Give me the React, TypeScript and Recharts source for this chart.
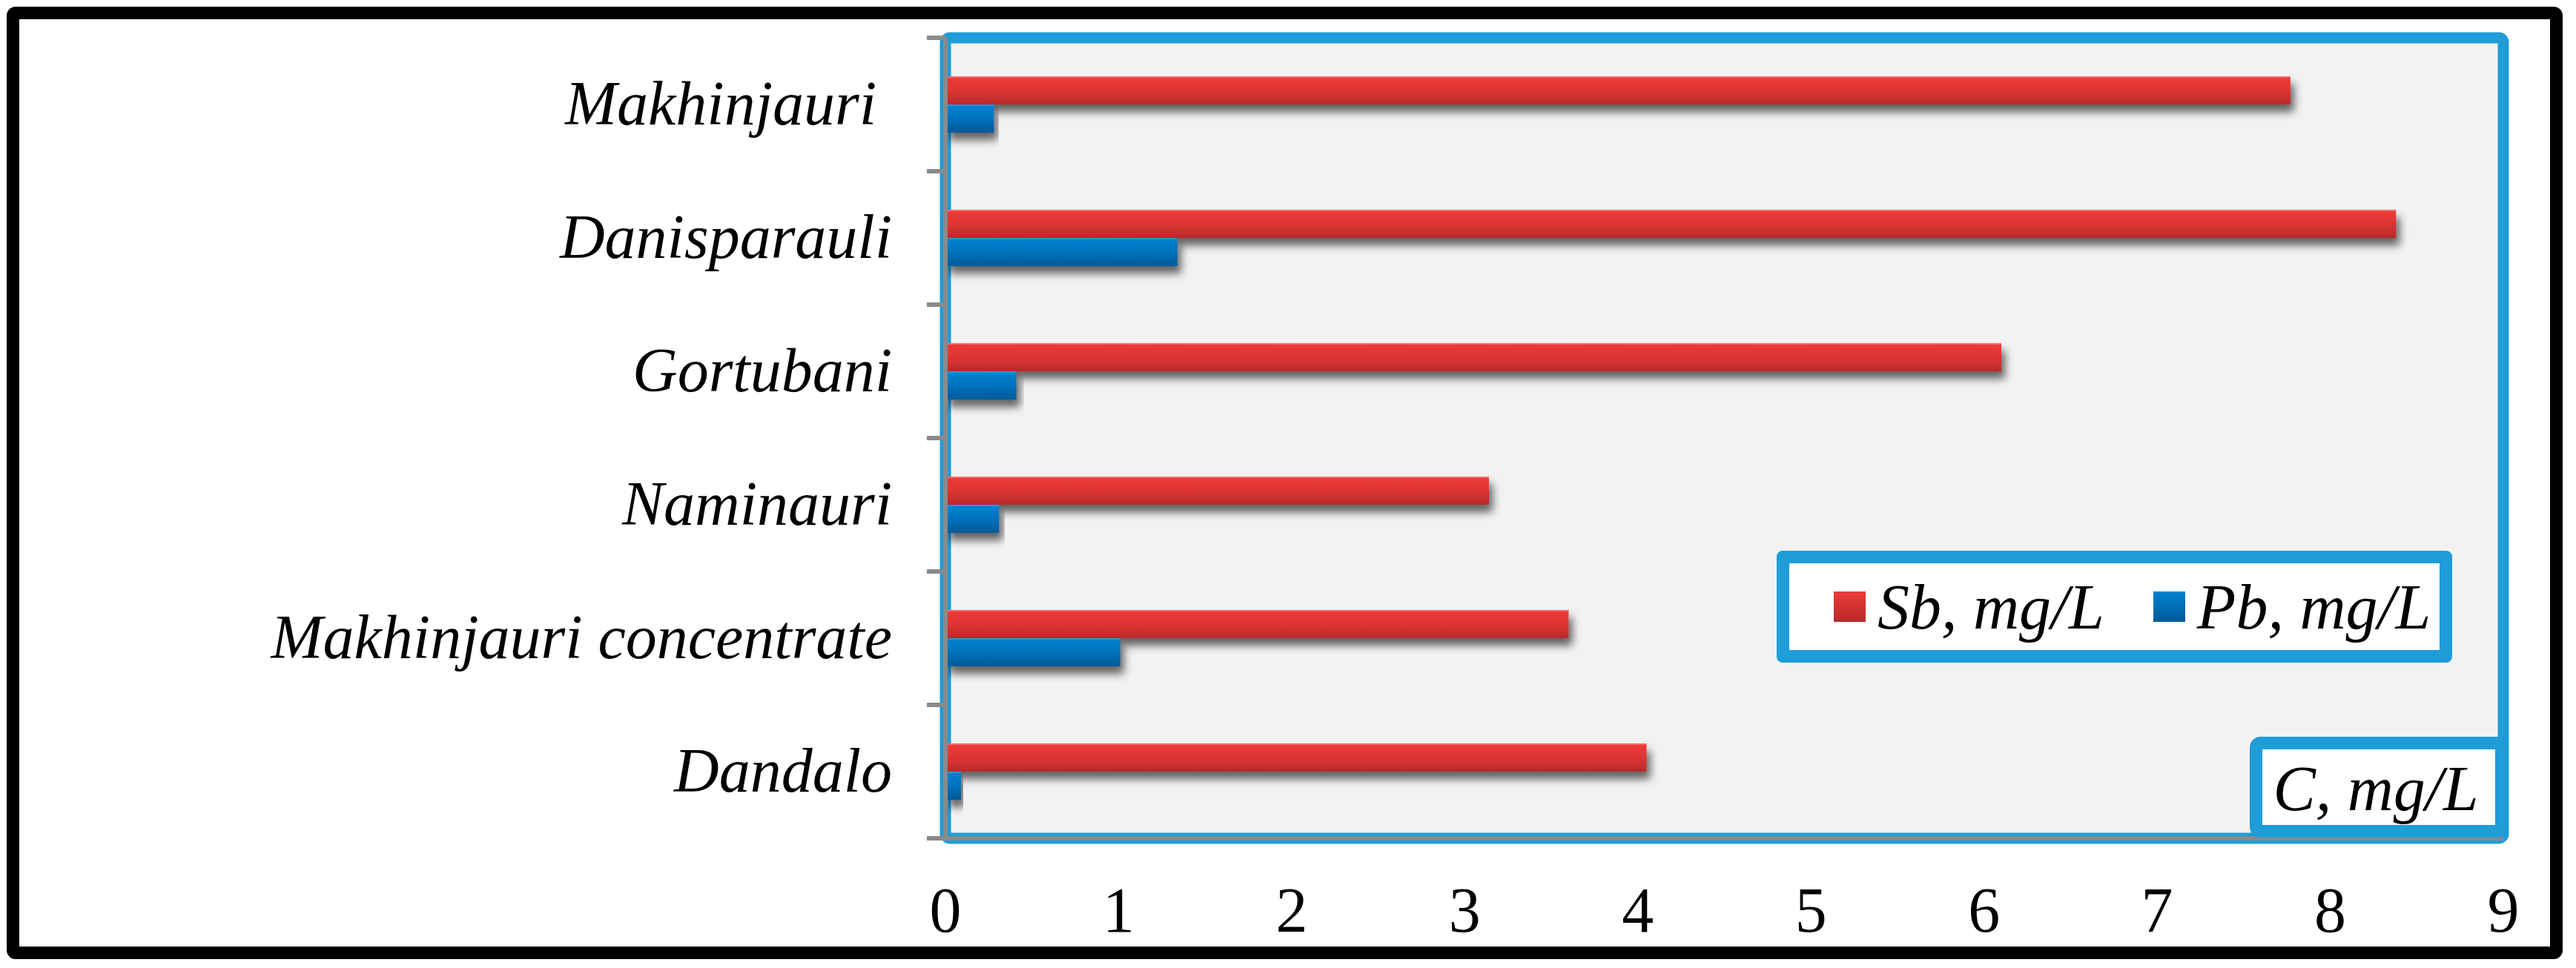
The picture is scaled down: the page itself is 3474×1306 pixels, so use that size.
import React from 'react';
import { BarChart, Bar, XAxis, YAxis, ReferenceArea, Legend } from 'recharts';

const categories = ['Makhinjauri', 'Danisparauli', 'Gortubani', 'Naminauri', 'Makhinjauri concentrate', 'Dandalo'];
const sbValues = [7.77, 8.38, 6.1, 3.14, 3.6, 4.05];
const pbValues = [0.28, 1.34, 0.41, 0.31, 1.01, 0.09];
const xTicks = [0, 1, 2, 3, 4, 5, 6, 7, 8, 9];
const seriesKeys = ['sb', 'pb'];
const sbName = 'Sb, mg/L';
const pbName = 'Pb, mg/L';
const axisUnit = 'C, mg/L';

const data = categories.map((name, i) => ({ name, sb: sbValues[i], pb: pbValues[i] }));

const FONT = '"Liberation Serif", "Times New Roman", serif';
const BLUE = '#1E9DD9';
const GRAY = '#8A8A8A';
const TICK_GAP = 72;
const TICK_LEN = 25;

const CategoryTick = (props: any) => {
  const { x, y, payload, index } = props;
  const half = payload && typeof payload.offset === 'number' ? payload.offset : 90;
  const axisX = x + TICK_GAP;
  const isLast = index === categories.length - 1;
  const label = payload.value === 'Makhinjauri' ? payload.value + '\u00A0' : payload.value;
  return (
    <g>
      <line x1={axisX - TICK_LEN} x2={axisX} y1={y - half} y2={y - half} stroke={GRAY} strokeWidth={6} />
      {isLast && <line x1={axisX - TICK_LEN} x2={axisX} y1={y + half} y2={y + half} stroke={GRAY} strokeWidth={6} />}
      <text x={x} y={y} dy={27} textAnchor="end" fill="#000" fontSize={84} fontStyle="italic" fontFamily={FONT}>
        {label}
      </text>
    </g>
  );
};

const ShadowBar = (props: any) => {
  const { x, y, width, height, fill, highlight } = props;
  if (!width || width <= 0) return null;
  return (
    <g>
      <rect x={x} y={y} width={width} height={height} fill={fill} filter="url(#barShadow)" />
      <rect x={x} y={y} width={width} height={2} fill={highlight} />
    </g>
  );
};

const UnitLabel = (props: any) => {
  const vb = props.viewBox;
  if (!vb) return null;
  const right = vb.x + vb.width + 6;
  const bottom = vb.y - 1;
  const w = 348;
  const h = 136;
  const sw = 17;
  return (
    <g>
      <rect x={right - w + sw / 2} y={bottom - h + sw / 2} width={w - sw} height={h - sw} rx={6} fill="#fff" stroke={BLUE} strokeWidth={sw} />
      <text x={right - w / 2 - 4} y={bottom - h + 99} textAnchor="middle" fill="#000" fontSize={86} fontStyle="italic" fontFamily={FONT}>
        {axisUnit}
      </text>
    </g>
  );
};

const legendColors: Record<string, string> = {
  sb: 'linear-gradient(#EE3B3A, #B92A2A)',
  pb: 'linear-gradient(#0082D4, #005A98)',
};

const renderLegend = (props: any) => {
  const items = [...(props.payload || [])].sort(
    (a: any, b: any) => seriesKeys.indexOf(a.dataKey) - seriesKeys.indexOf(b.dataKey)
  );
  return (
    <div
      style={{
        boxSizing: 'border-box',
        width: 911,
        height: 151,
        border: `17px solid ${BLUE}`,
        borderRadius: 8,
        background: '#fff',
        display: 'flex',
        alignItems: 'center',
        paddingLeft: 60,
      }}
    >
      {items.map((e: any, i: number) => (
        <div key={i} style={{ display: 'flex', alignItems: 'center', marginRight: i === 0 ? 66 : 0 }}>
          <span style={{ display: 'inline-block', width: 43, height: 41, background: legendColors[e.dataKey] || e.color, marginRight: 16 }} />
          <span style={{ fontFamily: FONT, fontStyle: 'italic', fontSize: 86, lineHeight: 1, color: '#000' }}>{e.value}</span>
        </div>
      ))}
    </div>
  );
};

export default function App() {
  return (
    <div style={{ position: 'absolute', left: 0, top: 0, width: 3474, height: 1306, background: '#fff' }}>
      <div
        style={{
          position: 'absolute',
          left: 9,
          top: 9,
          width: 3447,
          height: 1285,
          boxSizing: 'border-box',
          border: '17px solid #000',
          borderRadius: 12,
        }}
      />
      <div style={{ position: 'absolute', left: 0, top: 0 }}>
        <BarChart
          width={3474}
          height={1306}
          data={data}
          layout="vertical"
          barGap={0}
          margin={{ top: 51, right: 98, bottom: 75, left: 75 }}
        >
          <defs>
            <linearGradient id="gradRed" x1="0" y1="0" x2="0" y2="1">
              <stop offset="0%" stopColor="#EE3B3A" />
              <stop offset="45%" stopColor="#E03634" />
              <stop offset="100%" stopColor="#B92A2A" />
            </linearGradient>
            <linearGradient id="gradBlue" x1="0" y1="0" x2="0" y2="1">
              <stop offset="0%" stopColor="#0082D4" />
              <stop offset="45%" stopColor="#0074BF" />
              <stop offset="100%" stopColor="#005A98" />
            </linearGradient>
            <filter id="barShadow" x="-5%" y="-50%" width="115%" height="280%">
              <feDropShadow dx="5" dy="10" stdDeviation="6" floodColor="#000" floodOpacity="0.6" />
            </filter>
          </defs>
          <ReferenceArea
            x1={0}
            x2={9}
            fill="#F2F2F2"
            fillOpacity={1}
            stroke={BLUE}
            strokeWidth={15}
            radius={6}
            ifOverflow="visible"
          />
          <XAxis
            type="number"
            domain={[0, 9]}
            ticks={xTicks}
            interval={0}
            tickLine={false}
            tickSize={0}
            tickMargin={65}
            height={100}
            axisLine={{ stroke: GRAY, strokeWidth: 6 }}
            tick={{ fill: '#000', fontSize: 86, fontFamily: FONT }}
            label={<UnitLabel />}
          />
          <YAxis
            type="category"
            dataKey="name"
            width={1200}
            interval={0}
            tickLine={false}
            tickSize={0}
            tickMargin={TICK_GAP}
            axisLine={{ stroke: GRAY, strokeWidth: 6 }}
            tick={<CategoryTick />}
          />
          <Legend
            layout="horizontal"
            verticalAlign="middle"
            align="center"
            wrapperStyle={{ left: 2396, top: 743, width: 911, height: 151 }}
            content={renderLegend}
          />
          <Bar dataKey="sb" name={sbName} barSize={38} fill="url(#gradRed)" shape={<ShadowBar highlight="#F06A68" />} isAnimationActive={false} />
          <Bar dataKey="pb" name={pbName} barSize={38} fill="url(#gradBlue)" shape={<ShadowBar highlight="#2A95DA" />} isAnimationActive={false} />
        </BarChart>
      </div>
    </div>
  );
}
